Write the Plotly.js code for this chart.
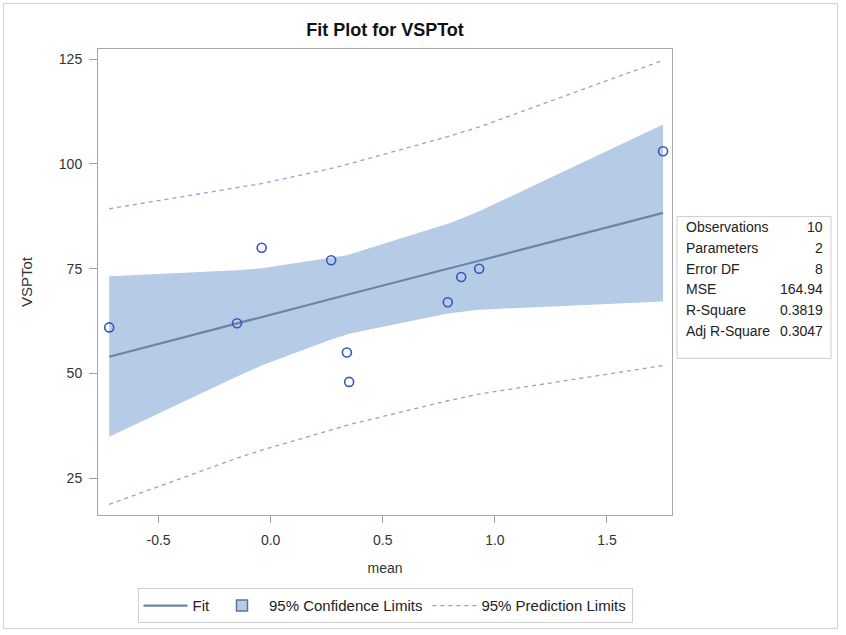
<!DOCTYPE html>
<html>
<head>
<meta charset="utf-8">
<script src="https://cdn.plot.ly/plotly-3.0.1.min.js"></script>
<style>
  html, body { margin: 0; padding: 0; background: #ffffff; }
  #wrap { position: relative; width: 846px; height: 635px; }
  #chart { width: 846px; height: 635px; }
  #frame { position: absolute; left: 3px; top: 3px; width: 833px; height: 624px; border: 1px solid #d4d4d4; pointer-events: none; }
</style>
</head>
<body>
<div id="wrap"><div id="chart"></div><div id="frame"></div></div>
<script>
// Observed data
const meanX = [-0.72, -0.15, -0.04, 0.27, 0.34, 0.35, 0.79, 0.85, 0.93, 1.75];
const vspTot = [61, 62, 80, 77, 55, 48, 67, 73, 75, 103];
// Fit and limits read at the sorted x values
const fitY = [54.0, 62.0, 63.5, 67.8, 68.8, 68.9, 75.0, 75.8, 76.9, 88.3];
const clLower = [34.9, 49.3, 51.9, 58.1, 59.3, 59.5, 64.3, 64.7, 65.2, 67.2];
const clUpper = [73.2, 74.6, 75.1, 77.5, 78.2, 78.4, 85.7, 86.9, 88.7, 109.4];
const plLower = [18.8, 29.8, 31.7, 36.6, 37.6, 37.8, 43.5, 44.2, 45.1, 51.9];
const plUpper = [89.3, 94.2, 95.3, 98.9, 99.9, 100.0, 106.5, 107.5, 108.8, 124.7];
// Fit statistics table
const statLabels = ["Observations", "Parameters", "Error DF", "MSE", "R-Square", "Adj R-Square"];
const statValues = ["10", "2", "8", "164.94", "0.3819", "0.3047"];
// Tick labels
const xTicks = [-0.5, 0.0, 0.5, 1.0, 1.5];
const yTicks = [25, 50, 75, 100, 125];

const FONT = "'Liberation Sans', Arial, sans-serif";
const TXT = "#333333";
const BAND = "#b6cbe5";

const bandX = meanX.concat(meanX.slice().reverse());
const bandY = clUpper.concat(clLower.slice().reverse());

const traces = [
  { x: bandX, y: bandY, type: "scatter", mode: "lines", fill: "toself",
    fillcolor: BAND, line: { width: 0, color: BAND },
    name: "95% Confidence Limits", showlegend: false, hoverinfo: "skip" },
  { x: meanX, y: fitY, type: "scatter", mode: "lines",
    line: { color: "#6e84a6", width: 2.2 }, name: "Fit", legendrank: 1 },
  // legend key for the confidence band (square swatch)
  { x: [null], y: [null], type: "scatter", mode: "markers",
    marker: { symbol: "square", size: 11, color: BAND, line: { width: 1.5, color: "#5f7396" } },
    name: "95% Confidence Limits", legendrank: 2 },
  { x: meanX, y: plUpper, type: "scatter", mode: "lines",
    line: { color: "#9c9cd6", width: 1.3, dash: "4px,4px" },
    name: "95% Prediction Limits", legendgroup: "pl", legendrank: 3 },
  { x: meanX, y: plLower, type: "scatter", mode: "lines",
    line: { color: "#9c9cd6", width: 1.3, dash: "4px,4px" },
    name: "95% Prediction Limits", legendgroup: "pl", showlegend: false },
  { x: meanX, y: vspTot, type: "scatter", mode: "markers",
    marker: { symbol: "circle-open", size: 9, color: "#3558b8", line: { width: 1.6, color: "#3558b8" } },
    name: "VSPTot", showlegend: false }
];

const L = 98, R = 672, T = 49, B = 519;
const px = v => (v - L) / (R - L);
const py = v => (B - v) / (B - T);

const rowY = [229, 249.5, 270.5, 291.5, 312.5, 333.5];
const annotations = [];
statLabels.forEach((lab, i) => {
  annotations.push({ xref: "paper", yref: "paper", x: px(684), y: py(rowY[i]), text: lab,
    xanchor: "left", yanchor: "middle", showarrow: false, font: { family: FONT, size: 14, color: "#222" } });
  annotations.push({ xref: "paper", yref: "paper", x: px(825), y: py(rowY[i]), text: statValues[i],
    xanchor: "right", yanchor: "middle", showarrow: false, font: { family: FONT, size: 14, color: "#222" } });
});

const layout = {
  width: 846, height: 635,
  paper_bgcolor: "#ffffff", plot_bgcolor: "#ffffff",
  margin: { l: L, r: 846 - R, t: T, b: 635 - B, pad: 0 },
  font: { family: FONT, color: TXT, size: 14 },
  title: { text: "<b>Fit Plot for VSPTot</b>", x: px(385), xref: "paper", xanchor: "center",
    y: 1 - 30 / 635, yanchor: "middle", font: { family: FONT, size: 18, color: "#111" } },
  xaxis: {
    range: [-0.77, 1.79], tickvals: xTicks, ticktext: xTicks.map(v => v.toFixed(1)),
    ticks: "outside", ticklen: 7, tickcolor: "#a0a0a0", tickwidth: 1, ticklabelstandoff: 5,
    showline: true, linecolor: "#a8a8a8", linewidth: 1, mirror: true,
    showgrid: false, zeroline: false,
    tickfont: { family: FONT, size: 14, color: TXT },
    title: { text: "mean", font: { family: FONT, size: 14, color: TXT }, standoff: 16 }
  },
  yaxis: {
    range: [16.25, 127.4], tickvals: yTicks,
    ticks: "outside", ticklen: 8, tickcolor: "#a0a0a0", tickwidth: 1, ticklabelstandoff: 4,
    showline: true, linecolor: "#a8a8a8", linewidth: 1, mirror: true,
    showgrid: false, zeroline: false,
    tickfont: { family: FONT, size: 14, color: TXT },
    title: { text: "VSPTot", font: { family: FONT, size: 15, color: TXT }, standoff: 22 }
  },
  showlegend: true,
  legend: {
    orientation: "h", x: px(385), xanchor: "center", y: py(593), yanchor: "top",
    bordercolor: "#cfcfcf", borderwidth: 1, bgcolor: "#ffffff",
    font: { family: FONT, size: 15, color: "#222" }, traceorder: "normal",
    itemwidth: 44
  },
  shapes: [
    { type: "rect", xref: "paper", yref: "paper", x0: px(677), x1: px(831), y0: py(361), y1: py(218),
      line: { color: "#cfcfcf", width: 1 }, fillcolor: "rgba(0,0,0,0)" }
  ],
  annotations: annotations
};

Plotly.newPlot("chart", traces, layout, { displayModeBar: false, staticPlot: true });
</script>
</body>
</html>
